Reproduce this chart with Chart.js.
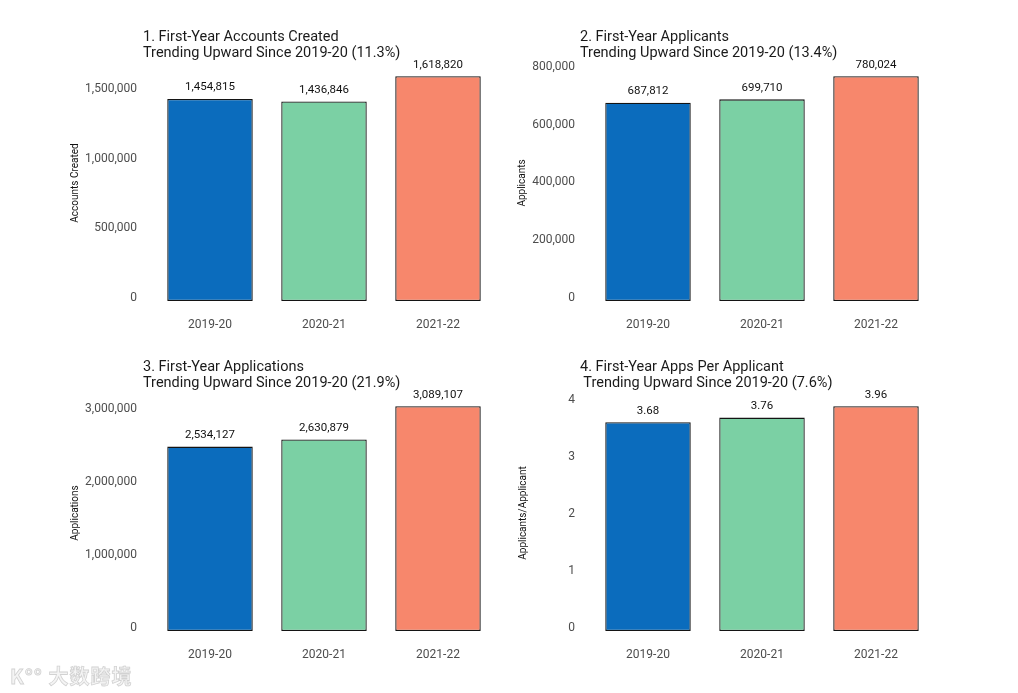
<!DOCTYPE html>
<html>
<head>
<meta charset="utf-8">
<script src="https://cdn.jsdelivr.net/npm/chart.js@4.4.1/dist/chart.umd.min.js"></script>
<style>
  html, body { margin: 0; padding: 0; background: #ffffff; }
  #page { position: relative; width: 1018px; height: 693px; overflow: hidden; background: #fff; font-family: Roboto, "Noto Sans", sans-serif; }
  .cv { position: absolute; width: 510px; height: 346px; }
  .ttl { position: absolute; font-family: Roboto, sans-serif; font-size: 14.5px; line-height: 16px; color: #1a1a1a; white-space: pre; }
  #wm { position: absolute; left: 10px; top: 661px; font-family: "Noto Sans CJK SC", sans-serif; font-weight: 700; font-size: 20px; color: #f4f4f4; -webkit-text-stroke: 0.8px #d2d2d2; letter-spacing: 1px; }
</style>
</head>
<body>
<div id="page">
  <canvas id="c1" class="cv" width="510" height="346" style="left:0px;top:0px"></canvas>
  <canvas id="c2" class="cv" width="510" height="346" style="left:438px;top:0px"></canvas>
  <canvas id="c3" class="cv" width="510" height="346" style="left:0px;top:330px"></canvas>
  <canvas id="c4" class="cv" width="510" height="346" style="left:438px;top:330px"></canvas>
  <div class="ttl" style="left:143px;top:29px">1. First-Year Accounts Created
Trending Upward Since 2019-20 (11.3%)</div>
  <div class="ttl" style="left:580px;top:29px">2. First-Year Applicants
Trending Upward Since 2019-20 (13.4%)</div>
  <div class="ttl" style="left:143px;top:359px">3. First-Year Applications
Trending Upward Since 2019-20 (21.9%)</div>
  <div class="ttl" style="left:580px;top:359px">4. First-Year Apps Per Applicant
 Trending Upward Since 2019-20 (7.6%)</div>
  <div id="wm">K°° 大数跨境</div>
</div>
<script>
// ---- data ----
const categories = ['2019-20', '2020-21', '2021-22'];
const accountsCreated = [1454815, 1436846, 1618820];
const applicants = [687812, 699710, 780024];
const applications = [2534127, 2630879, 3089107];
const appsPerApplicant = [3.68, 3.76, 3.96];

const ticksAccounts = [0, 500000, 1000000, 1500000];
const ticksApplicants = [0, 200000, 400000, 600000, 800000];
const ticksApplications = [0, 1000000, 2000000, 3000000];
const ticksAppsPer = [0, 1, 2, 3, 4];

const axisMax = [1700000, 819000, 3243500, 4.158];
const axisTitles = ['Accounts Created', 'Applicants', 'Applications', 'Applicants/Applicant'];
const barColors = ['#0b6cbd', '#7bd0a4', '#f7876c'];

const valueLabelPlugin = {
  id: 'valueLabels',
  afterDatasetsDraw(chart) {
    const ctx = chart.ctx;
    const ds = chart.data.datasets[0];
    const meta = chart.getDatasetMeta(0);
    ctx.save();
    ctx.fillStyle = '#111111';
    ctx.font = '11.5px Roboto';
    ctx.textAlign = 'center';
    ctx.textBaseline = 'middle';
    meta.data.forEach((bar, i) => {
      const v = ds.data[i];
      const txt = chart.options.plugins.valueLabels.decimals
        ? v.toFixed(2)
        : v.toLocaleString('en-US');
      ctx.fillText(txt, bar.x, bar.y - 11.5);
    });
    ctx.restore();
  }
};

function makeChart(id, values, tickVals, yMax, yTitle, titleOffset, decimals) {
  const fmt = v => decimals ? String(v) : Number(v).toLocaleString('en-US');
  return new Chart(document.getElementById(id), {
    type: 'bar',
    data: {
      labels: categories,
      datasets: [{
        data: values,
        backgroundColor: barColors,
        borderColor: '#141414',
        borderWidth: 1.3,
        borderSkipped: false,
        barPercentage: 0.75,
        categoryPercentage: 1.0
      }]
    },
    options: {
      responsive: false,
      maintainAspectRatio: false,
      animation: false,
      devicePixelRatio: 1,
      layout: { padding: { left: titleOffset, right: 15, top: 65, bottom: 0 } },
      plugins: {
        legend: { display: false },
        title: { display: false },
        tooltip: { enabled: false },
        valueLabels: { decimals: decimals }
      },
      scales: {
        x: {
          grid: { display: false, drawTicks: false },
          border: { display: false },
          ticks: { color: '#4d4d4d', font: { family: 'Roboto', size: 12 }, padding: 16.5 },
          afterFit: s => { s.height = 45; }
        },
        y: {
          min: 0,
          max: yMax,
          grid: { display: false, drawTicks: false },
          border: { display: false },
          ticks: { color: '#4d4d4d', font: { family: 'Roboto', size: 12 }, padding: 16, labelOffset: -3.5, callback: v => fmt(v) },
          afterBuildTicks: s => { s.ticks = tickVals.map(v => ({ value: v })); },
          afterFit: s => { s.width = 153 - titleOffset; },
          title: {
            display: true,
            text: yTitle,
            color: '#111111',
            font: { family: 'Roboto', size: 10 },
            padding: { top: 0, bottom: 0 }
          }
        }
      }
    },
    plugins: [valueLabelPlugin]
  });
}

makeChart('c1', accountsCreated, ticksAccounts, axisMax[0], axisTitles[0], 69, false);
makeChart('c2', applicants, ticksApplicants, axisMax[1], axisTitles[1], 78, false);
makeChart('c3', applications, ticksApplications, axisMax[2], axisTitles[2], 69, false);
makeChart('c4', appsPerApplicant, ticksAppsPer, axisMax[3], axisTitles[3], 79, true);
</script>
</body>
</html>
